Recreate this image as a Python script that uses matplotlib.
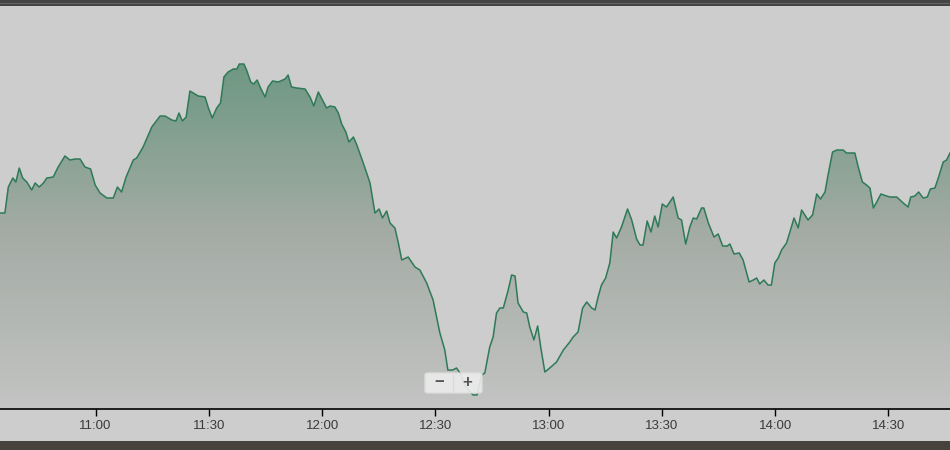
import matplotlib
matplotlib.use("Agg")
import matplotlib.pyplot as plt
import numpy as np
from matplotlib.patches import Rectangle, FancyBboxPatch
from matplotlib.colors import LinearSegmentedColormap

# minutes after 10:00 and the (unlabelled) series value
minutes = [34.7, 36.0, 36.9, 38.1, 38.9, 39.8, 40.7, 41.8, 43.1, 44.0, 45.1, 46.2, 47.1, 48.8,
           50.1, 51.9, 53.2, 54.6, 55.9, 57.2, 58.7, 59.9, 61.2, 63.0, 64.7, 65.8, 66.9, 68.1,
           70.0, 70.9, 72.6, 74.9, 77.1, 78.4, 80.2, 81.3, 82.1, 83.0, 84.0, 85.0, 85.9, 87.2,
           89.0, 89.9, 90.9, 92.1, 93.1, 94.0, 95.1, 96.5, 97.4, 98.1, 99.3, 100.0, 101.1, 101.9,
           102.8, 103.7, 104.9, 105.7, 106.9, 108.4, 110.2, 111.0, 111.9, 113.3, 115.5, 116.8,
           117.8, 119.0, 120.1, 121.2, 122.1, 123.4, 124.3, 125.2, 126.3, 127.1, 128.3, 129.2,
           130.9, 132.7, 134.0, 135.1, 136.0, 137.1, 138.0, 139.3, 140.2, 141.1, 142.8, 144.6,
           145.9, 147.7, 149.4, 151.2, 152.5, 153.3, 154.6, 155.6, 156.5, 158.1, 160.0, 161.0,
           162.3, 163.1, 164.4, 165.3, 166.2, 167.1, 168.0, 169.3, 170.2, 171.1, 171.9, 173.3,
           174.2, 175.0, 176.1, 177.1, 177.9, 179.0, 180.3, 182.1, 183.9, 185.6, 186.5, 187.8,
           189.0, 190.1, 191.4, 192.3, 193.1, 194.0, 195.1, 196.2, 197.1, 198.0, 199.3, 200.9,
           202.0, 203.3, 204.2, 205.0, 206.1, 207.1, 208.1, 209.0, 210.1, 211.2, 213.0, 214.3,
           215.2, 216.3, 217.4, 218.3, 219.2, 220.5, 221.1, 222.3, 223.8, 224.9, 226.1, 227.3,
           228.0, 229.1, 230.5, 231.5, 233.1, 234.2, 235.1, 235.9, 237.0, 238.1, 239.0, 239.9,
           240.8, 241.7, 243.0, 243.9, 245.0, 246.1, 247.0, 248.7, 249.9, 251.0, 252.0, 253.2,
           254.0, 255.2, 256.3, 258.0, 258.9, 260.2, 261.1, 262.0, 263.1, 264.2, 265.1, 266.0,
           266.9, 268.0, 269.5, 270.4, 272.2, 273.9, 275.2, 275.9, 277.0, 278.0, 279.2, 280.3,
           281.1, 282.3, 283.2, 284.5, 285.4, 286.3]
values = [196, 196, 222, 231, 227, 241, 231, 227, 219, 226, 222, 226, 231, 232,
          242, 253, 249, 250, 250, 242, 240, 224, 216, 211, 211, 222, 217, 232,
          249, 251, 262, 282, 293, 293, 289, 288, 296, 288, 292, 318, 316, 313,
          312, 301, 291, 301, 306, 332, 337, 340, 340, 345, 345, 339, 327, 325,
          329, 321, 312, 322, 328, 327, 330, 334, 322, 321, 320, 312,
          303, 317, 309, 301, 303, 302, 296, 285, 277, 267, 272, 264,
          246, 226, 196, 200, 191, 198, 186, 181, 166, 149, 152, 142,
          139, 126, 109, 76, 59, 39, 39, 41, 36, 22, 14, 14,
          34, 36, 62, 72, 96, 101, 101, 119, 134, 133, 106, 97,
          96, 82, 69, 83, 62, 37, 41, 47, 59, 67, 72, 77,
          101, 107, 101, 99, 112, 124, 131, 146, 177, 171, 182, 200,
          189, 170, 164, 164, 188, 177, 193, 182, 205, 202, 212, 191,
          189, 165, 182, 191, 190, 201, 201, 186, 172, 175, 163, 163,
          165, 155, 156, 149, 127, 129, 131, 125, 129, 124, 124, 146,
          151, 159, 166, 177, 191, 181, 199, 189, 194, 215, 210, 217,
          234, 257, 259, 259, 256, 256, 256, 242, 227, 224, 221, 201,
          207, 215, 213, 212, 212, 206, 202, 212, 213, 217, 211, 212,
          220, 221, 231, 247, 249, 256]

tick_minutes = [60, 90, 120, 150, 180, 210, 240, 270]
tick_labels = ["11:00", "11:30", "12:00", "12:30", "13:00", "13:30", "14:00", "14:30"]

plt.rcParams['font.family'] = ['Liberation Sans', 'DejaVu Sans']

bg = "#cdcdcd"
fig = plt.figure(figsize=(9.5, 4.5), dpi=100, facecolor=bg)

# dark bands top and bottom
fig.patches.append(Rectangle((0, 1 - 6 / 450), 1, 6 / 450, transform=fig.transFigure,
                             facecolor="#444444", edgecolor="none", zorder=0))
fig.patches.append(Rectangle((0, 1 - 4 / 450), 1, 1.5 / 450, transform=fig.transFigure,
                             facecolor="#666666", edgecolor="none", zorder=0))
fig.patches.append(Rectangle((0, 0), 1, 9 / 450, transform=fig.transFigure,
                             facecolor="#47423b", edgecolor="none", zorder=0))

ax = fig.add_axes([0, 41 / 450, 1, 403 / 450])
ax.set_facecolor(bg)
x = np.array(minutes)
y = np.array(values)
ax.set_xlim(x[0], x[-1])
ax.set_ylim(0, 403)

# gradient fill, green at the top fading to grey at the bottom
cmap = LinearSegmentedColormap.from_list("g", ["#c3c4c3", "#a5aca6", "#6e9882"])
grad = np.linspace(0, 1, 256).reshape(-1, 1)
im = ax.imshow(grad, extent=[x[0], x[-1], 0, 345], origin="lower", aspect="auto",
               cmap=cmap, zorder=1)
poly = ax.fill_between(x, 0, y, facecolor="none", edgecolor="none")
clip = poly.get_paths()[0]
im.set_clip_path(clip, transform=ax.transData)
ax.plot(x, y, color="#2e7a58", lw=1.1, zorder=3)

for s in ["top", "left", "right"]:
    ax.spines[s].set_visible(False)
ax.spines["bottom"].set_color("black")
ax.spines["bottom"].set_linewidth(1.2)
ax.set_yticks([])
ax.set_xticks(tick_minutes)
ax.set_xticklabels(tick_labels, fontsize=9.5, color="#3a3a3a")
ax.tick_params(axis="x", length=5, width=1, color="black", pad=3)

# zoom buttons
btn = FancyBboxPatch((425 / 950, 1 - 393 / 450), 57 / 950, 20 / 450, transform=fig.transFigure,
                     boxstyle="round,pad=0,rounding_size=0.004", facecolor="#ececec",
                     edgecolor="#dddddd", alpha=0.9, zorder=5)
fig.patches.append(btn)
fig.lines.append(plt.Line2D([453 / 950, 453 / 950], [1 - 391 / 450, 1 - 375 / 450],
                            transform=fig.transFigure, color="#dadada", lw=1, zorder=6))
fig.text(439 / 950, 1 - 383 / 450, "\u2212", ha="center", va="center", fontsize=12,
         fontweight="bold", color="#555555", zorder=6)
fig.text(467 / 950, 1 - 383 / 450, "+", ha="center", va="center", fontsize=12,
         fontweight="bold", color="#555555", zorder=6)

fig.savefig("out.png", dpi=100, facecolor=bg)
